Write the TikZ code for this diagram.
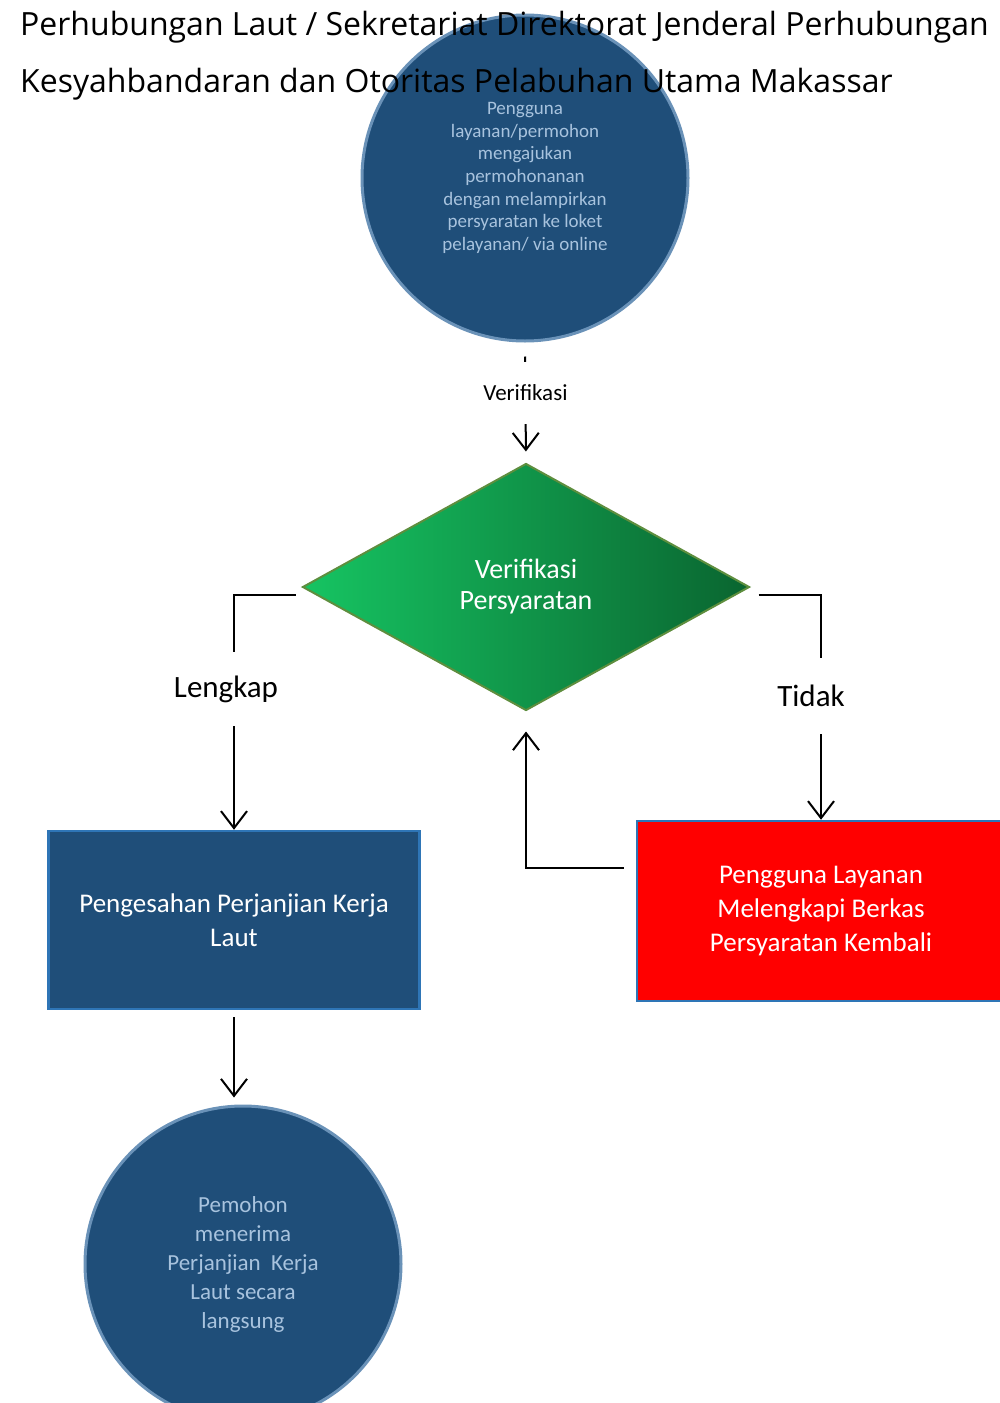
\documentclass[tikz,border=0pt]{standalone}
\usepackage{fontspec}
\setmainfont{Open Sans}
\newfontfamily\carlito{Carlito}
\usetikzlibrary{shapes,arrows.meta,positioning}
\definecolor{navy}{HTML}{1F4E79}
\definecolor{rim}{HTML}{6A92B8}
\definecolor{pale}{HTML}{A8C3DE}
\definecolor{edgeblue}{HTML}{2E75B6}
\definecolor{leaf}{HTML}{16C462}
\definecolor{leafmid}{HTML}{13B85B}
\definecolor{leafdark}{HTML}{0A6530}
\definecolor{olive}{HTML}{5E8E3E}

\begin{document}
\begin{tikzpicture}[x=1pt, y=-1pt, >={Straight Barb[length=17pt, width=26pt, line width=2pt]},
    every node/.append style={font=\carlito},
    bulat/.style={circle, fill=navy, draw=rim, line width=3pt, inner sep=0pt, align=center, text=pale},
    kotak/.style={rectangle, draw=edgeblue, line width=2.5pt, inner sep=0pt, align=center, text=white,
      font=\carlito\fontsize{27}{34}\selectfont},
    garis/.style={draw=black, line width=2pt},
    ket/.style={fill=white, inner xsep=4pt, text=black}]
  \useasboundingbox (0,0) rectangle (999,1403);

  \node(mulai)[bulat, minimum size=326pt, font=\carlito\fontsize{19}{22.6}\selectfont] at (525,178)
    {Pengguna\\layanan/permohon\\mengajukan\\permohonanan\\dengan melampirkan\\persyaratan ke loket\\pelayanan/ via online};

  \node(judul)[anchor=west, align=left, inner sep=0pt, font=\fontsize{32}{57}\selectfont] at (20,56)
    {Perhubungan Laut / Sekretariat Direktorat Jenderal Perhubungan\\Kesyahbandaran dan Otoritas Pelabuhan Utama Makassar};

  \node(verif)[diamond, minimum width=447pt, minimum height=247pt, inner sep=0pt, draw=olive, line width=2pt,
    left color=leaf, middle color=leafmid, right color=leafdark, align=center, text=white,
    font=\carlito\fontsize{28}{31}\selectfont] at (526,587) {Verifikasi\\Persyaratan};

  \node(sah)[kotak, fill=navy, minimum width=371pt, minimum height=178pt] at (234,920)
    {Pengesahan Perjanjian Kerja\\Laut};

  \node(ulang)[kotak, fill=red, minimum width=368pt, minimum height=180pt] at (821,911)
    {Pengguna Layanan\\Melengkapi Berkas\\Persyaratan Kembali};

  \node(selesai)[bulat, minimum size=316pt, font=\carlito\fontsize{23}{29}\selectfont] at (243,1264)
    {Pemohon\\menerima\\Perjanjian\ \ Kerja\\Laut secara\\langsung};

  \draw[garis, ->, shorten <=14pt, shorten >=11pt] (mulai.south) -- node[ket, pos=0.42, minimum height=62pt,
    font=\carlito\fontsize{23}{24}\selectfont] {Verifikasi} (verif.north);
  \draw[garis, ->] ([xshift=-6pt, yshift=-8pt]verif.west) -| node[ket, pos=0.7, xshift=-8pt, minimum height=74pt,
    font=\carlito\fontsize{31}{32}\selectfont] {Lengkap} (sah.north);
  \draw[garis, ->] ([xshift=8pt, yshift=-8pt]verif.east) -| node[ket, pos=0.725, xshift=-10pt, minimum height=76pt,
    font=\carlito\fontsize{31}{32}\selectfont] {Tidak} (ulang.north);
  \draw[garis, ->, shorten >=20pt] ([xshift=-12pt, yshift=43pt]ulang.west) -| (verif.south);
  \draw[garis, ->, shorten <=7pt, shorten >=7pt] (sah.south) -- (sah.south |- selesai.north);
\end{tikzpicture}
\end{document}
